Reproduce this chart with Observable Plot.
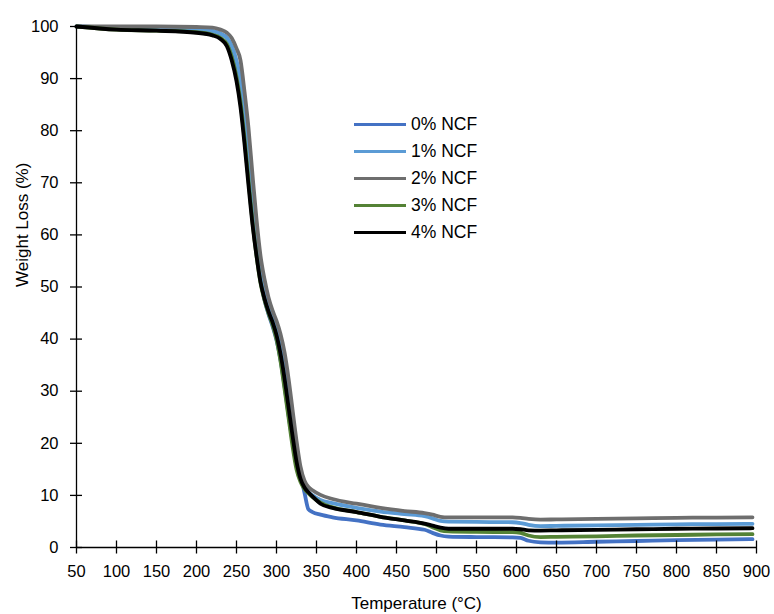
<!DOCTYPE html>
<html><head><meta charset="utf-8">
<script src="https://cdn.jsdelivr.net/npm/d3@7"></script>
<script src="https://cdn.jsdelivr.net/npm/@observablehq/plot@0.6"></script>
<style>
body{margin:0;background:#fff;}
#wrap{position:relative;width:774px;height:614px;font-family:"Liberation Sans",Arial,sans-serif;}
#legend{position:absolute;left:354px;top:111px;font-size:17.5px;color:#000;}
#legend .row{display:flex;align-items:center;height:27px;}
#legend .sw{width:52px;height:3.8px;margin-right:5px;}
</style></head><body><div id="wrap"></div>
<script>
const temperature = [50,100,150,200,220,230,238,244,250,255,260,265,270,275,280,285,290,295,300,305,310,315,320,325,330,335,340,345,355,370,400,430,460,485,495,505,515,550,595,605,615,630,650,700,750,800,850,895];
const ncf0 = [100,99.8,99.7,99.4,99.1,98.6,97.8,96.0,92.5,88.0,81.0,72.5,64.0,57.0,51.5,47.5,44.8,42.5,39.8,36.0,31.0,25.5,20.5,16.5,13.8,10.5,7.3,6.8,6.3,5.8,5.2,4.4,3.9,3.4,2.8,2.3,2.1,2.0,1.95,1.85,1.3,1.0,0.95,1.1,1.25,1.4,1.5,1.6];
const ncf1 = [100,99.8,99.7,99.4,99.1,98.6,97.8,96.3,93.5,89.8,83.5,75.5,67.0,59.5,53.5,49.5,46.5,44.3,42.0,39.0,35.0,29.8,24.0,18.5,14.0,11.8,10.6,10.0,9.1,8.5,7.6,6.9,6.4,6.0,5.6,5.1,4.95,4.9,4.85,4.7,4.35,4.1,4.15,4.25,4.35,4.45,4.5,4.55];
const ncf2 = [100,100,100,99.9,99.8,99.4,98.8,97.8,95.8,93.5,87.5,80.5,71.5,63.0,56.0,51.5,48.0,45.5,43.5,41.0,37.5,32.5,26.5,20.5,15.5,12.8,11.6,11.0,10.1,9.3,8.4,7.6,7.0,6.6,6.3,5.9,5.8,5.8,5.8,5.7,5.5,5.35,5.4,5.5,5.6,5.7,5.75,5.8];
const ncf3 = [100,99.4,99.2,98.9,98.4,97.8,96.6,94.2,90.3,85.5,78.5,70.5,62.5,56.0,50.8,47.5,45.0,42.8,40.0,35.8,30.5,25.0,19.5,15.0,12.6,11.2,10.4,9.7,8.6,7.7,6.8,5.9,5.2,4.5,3.9,3.3,3.1,3.0,2.95,2.8,2.3,2.0,2.05,2.15,2.3,2.4,2.5,2.55];
const ncf4 = [100,99.4,99.2,98.8,98.3,97.6,96.2,93.5,89.5,84.5,77.5,69.5,62.0,56.0,51.0,47.8,45.3,43.3,40.8,37.2,32.5,27.0,21.5,16.5,13.2,11.5,10.6,9.8,8.4,7.6,6.8,5.9,5.2,4.6,4.2,3.8,3.6,3.6,3.6,3.5,3.3,3.25,3.3,3.4,3.5,3.6,3.65,3.7];
const seriesNames = ["0% NCF","1% NCF","2% NCF","3% NCF","4% NCF"];
const seriesColors = ["#4472C4","#5B9BD5","#6E6E6E","#548235","#000000"];
const seriesValues = [ncf0, ncf1, ncf2, ncf3, ncf4];
const xTicks = d3.range(50, 901, 50);
const yTicks = d3.range(0, 101, 10);

const rows = [];
seriesValues.forEach((vals, i) => vals.forEach((v, j) => rows.push({T: temperature[j], W: v, s: seriesNames[i]})));

const font = '"Liberation Sans",Arial,sans-serif';
const plot = Plot.plot({
  width: 774, height: 614,
  marginLeft: 76, marginRight: 18, marginTop: 26, marginBottom: 67,
  x: {domain: [50, 900]},
  y: {domain: [0, 100]},
  color: {domain: seriesNames, range: seriesColors},
  style: {fontFamily: font, fontSize: "16.5px", color: "#000", background: "#fff", overflow: "visible"},
  marks: [
    Plot.line(rows, {x: "T", y: "W", z: "s", stroke: "s", strokeWidth: 3.8, curve: "monotone-x", strokeLinejoin: "round"}),
    Plot.ruleY([0], {x1: () => 50, x2: () => 900, stroke: "#000", strokeWidth: 1.3}),
    Plot.ruleX([50], {y1: () => 0, y2: () => 100, stroke: "#000", strokeWidth: 1.3}),
    Plot.ruleY(yTicks, {y: d => d, x1: () => 42.5, x2: () => 57.5, stroke: "#000", strokeWidth: 1.3}),
    Plot.ruleX(xTicks, {x: d => d, y1: () => -1.25, y2: () => 1.25, stroke: "#000", strokeWidth: 1.3}),
    Plot.axisY({ticks: yTicks, tickSize: 0, tickPadding: 18, label: null, fontSize: 16.5}),
    Plot.axisX({ticks: xTicks, tickSize: 0, tickPadding: 18, label: null, fontSize: 16.5}),
    Plot.text(["Temperature (°C)"], {frameAnchor: "bottom", dy: 56, lineAnchor: "middle", fontSize: 17}),
    Plot.text(["Weight Loss (%)"], {frameAnchor: "left", dx: -54, rotate: -90, lineAnchor: "middle", fontSize: 17})
  ]
});
const wrap = document.getElementById("wrap");
wrap.appendChild(plot);
const legend = document.createElement("div");
legend.id = "legend";
seriesNames.forEach((n, i) => {
  const r = document.createElement("div");
  r.className = "row";
  r.innerHTML = `<span class="sw" style="background:${seriesColors[i]}"></span><span>${n}</span>`;
  legend.appendChild(r);
});
wrap.appendChild(legend);
</script></body></html>
